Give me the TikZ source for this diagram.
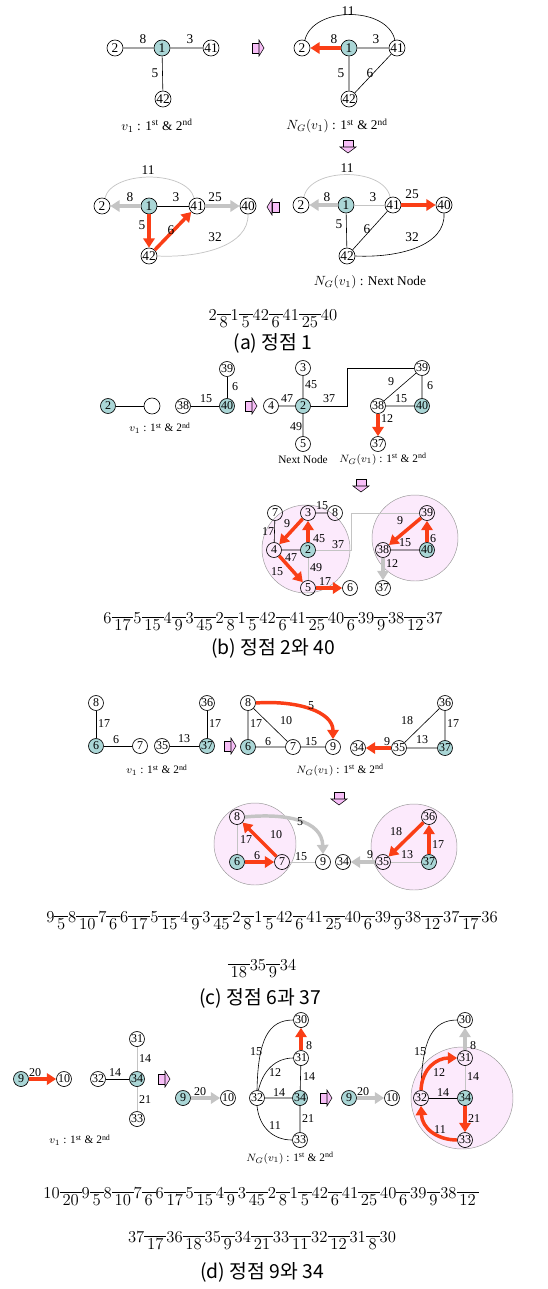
\documentclass[tikz,border=0pt]{standalone}
\usepackage{amsmath}
\usepackage{fontspec}
\newfontfamily\ser{Liberation Serif}
\newfontfamily\kor{Noto Sans CJK KR}
\usetikzlibrary{arrows.meta}
\definecolor{rd}{RGB}{250,62,22}
\definecolor{gy}{RGB}{196,196,196}
\definecolor{tl}{RGB}{170,214,214}
\definecolor{pk}{RGB}{252,234,252}
\definecolor{pa}{RGB}{247,190,247}
\newcommand\wt[1]{\hbox{\setbox0=\hbox{#1}\dimen0=\dimexpr\wd0+4.2pt\relax\rlap{\rule[0.3em]{\dimen0}{0.45pt}}\hbox to\dimen0{\hss\raisebox{-0.46em}{\box0}\hss}}}
\newcommand\fs[1]{\ser\fontsize{#1}{#1}\selectfont}
\newcommand\fsts{1\textsuperscript{st} \& 2\textsuperscript{nd}}
\tikzset{
 pkR/.pic={\draw[fill=pa,line width=0.4pt] (-5,-5) rectangle (2,5); \draw[fill=pa,line width=0.4pt] (2,-8) -- (7,0) -- (2,8) -- cycle;},
 pkL/.pic={\draw[fill=pa,line width=0.4pt] (5,-5) rectangle (-2,5); \draw[fill=pa,line width=0.4pt] (-2,-8) -- (-7,0) -- (-2,8) -- cycle;},
 pkD/.pic={\draw[fill=pa,line width=0.4pt] (-5,-6) rectangle (5,1); \draw[fill=pa,line width=0.4pt] (-8,1) -- (0,7) -- (8,1) -- cycle;},
 nd/.style={circle,draw,line width=0.5pt,inner sep=0pt,minimum size=11.25pt,font=\fs{9}},
 na/.style={nd,minimum size=12pt,font=\fs{10}},
 fl/.style={fill=tl},
 lb/.style={inner sep=0pt,font=\fs{9}},
 la/.style={inner sep=0pt,font=\fs{10}},
 ed/.style={draw=black,line width=0.45pt},
 eg/.style={draw=gy,line width=0.55pt},
 ra/.style={draw=rd,line width=2.6pt,-{Triangle[length=7pt,width=8.5pt]}},
 ga/.style={ra,draw=gy},
 ca/.style={inner sep=0pt,font=\fs{10}},
 cb/.style={inner sep=0pt,font=\fs{8.5}},
 kc/.style={inner sep=0pt,font=\kor\fontsize{14.5}{14.5}\selectfont},
 sq/.style={inner sep=0pt,anchor=base,font=\fontsize{12.5}{15}\selectfont},
 pc/.style={fill=pk,draw=gray!80,line width=0.35pt},
}
\begin{document}
\begin{tikzpicture}[x=0.75pt,y=-0.75pt]
\useasboundingbox (0,0) rectangle (547,1289);
% ---------- (a) top left
\begin{scope}[name prefix=aA-]
\node[na] (n2) at (115,48) {2};
\node[na,fl] (n1) at (162,48) {1};
\node[na] (n41) at (211,48) {41};
\node[na] (n42) at (163,99) {42};
\draw[ed] (n2)--(n1) (n1)--(n41) (n1)--(n42);
\node[la] (w8) at (143,39) {8};
\node[la] (w3) at (190,39) {3};
\node[la] (w5) at (155,73) {5};
\node[ca] (cap) at (157,126) {$v_1$ : \fsts};
\end{scope}
% ---------- (a) top right
\begin{scope}[name prefix=aB-]
\node[na] (n2) at (302,48) {2};
\node[na,fl] (n1) at (349,48) {1};
\node[na] (n41) at (397,48) {41};
\node[na] (n42) at (349,99) {42};
\draw[ed] (n2.70) .. controls (313,6) and (387,6) .. (n41.105);
\draw[ed] (n1)--(n41) (n1)--(n42) (n41)--(n42);
\draw[ra] (n1)--(n2);
\node[la] (w11) at (348,11) {11};
\node[la] (w8) at (334,39) {8};
\node[la] (w3) at (376,39) {3};
\node[la] (w5) at (341,73) {5};
\node[la] (w6) at (370,73) {6};
\node[ca] (cap) at (337,126) {$N_G(v_1)$ : \fsts};
\end{scope}
% ---------- (a) bottom left
\begin{scope}[name prefix=aC-]
\node[na] (n2) at (102,206) {2};
\node[na,fl] (n1) at (149,206) {1};
\node[na] (n41) at (197,206) {41};
\node[na] (n40) at (248,206) {40};
\node[na] (n42) at (149,256) {42};
\draw[eg] (n2.70) .. controls (112,170) and (187,170) .. (n41.110);
\draw[eg] (n42.east) .. controls (200,258) and (249,246) .. (n40.south);
\draw[ed] (n1)--(n41);
\draw[ga] (n1)--(n2);
\draw[ga] (n41)--(n40);
\draw[ra] (n1)--(n42);
\draw[ra] (n42)--(n41);
\node[la] (w11) at (148,170) {11};
\node[la] (w8) at (130,197) {8};
\node[la] (w3) at (176,197) {3};
\node[la] (w25) at (215,197) {25};
\node[la] (w5) at (142,225) {5};
\node[la] (w6) at (171,230) {6};
\node[la] (w32) at (215,237) {32};
\end{scope}
% ---------- (a) bottom right
\begin{scope}[name prefix=aD-]
\node[na] (n2) at (301,205) {2};
\node[na,fl] (n1) at (346,205) {1};
\node[na] (n41) at (393,205) {41};
\node[na] (n40) at (444,205) {40};
\node[na] (n42) at (347,256) {42};
\draw[eg] (n2.70) .. controls (310,167) and (384,167) .. (n41.110);
\draw[ed] (n42.east) .. controls (398,258) and (446,246) .. (n40.south);
\draw[eg] (n1)--(n41);
\draw[ed] (n1)--(n42) (n42)--(n41);
\draw[ga] (n1)--(n2);
\draw[ra] (n41)--(n40);
\node[la] (w11) at (347,168) {11};
\node[la] (w8) at (327,197) {8};
\node[la] (w3) at (373,197) {3};
\node[la] (w25) at (412,194) {25};
\node[la] (w5) at (339,224) {5};
\node[la] (w6) at (367,229) {6};
\node[la] (w32) at (412,237) {32};
\node[ca] (cap) at (370,282) {$N_G(v_1)$ : Next Node};
\end{scope}
\pic at (257,48) {pkR};
\pic at (348,146) {pkD};
\pic at (274,207) {pkL};
\node[sq] (sa) at (273,320) {2\wt{8}1\wt{5}42\wt{6}41\wt{25}40};
\node[kc] (ka) at (273,343) {(a) 정점 1};
% ---------- (b) top left
\begin{scope}[name prefix=bA-]
\node[nd,fl] (n2) at (108,406) {2};
\node[nd,minimum size=12pt] (e) at (152,406) {};
\node[nd] (n38) at (183,406) {38};
\node[nd,fl] (n40) at (227,406) {40};
\node[nd] (n39) at (227,369) {39};
\draw[ed] (n2)--(e) (n38)--(n40) (n40)--(n39);
\node[lb] (w15) at (206,399) {15};
\node[lb] (w6) at (235,387) {6};
\node[cb] (cap) at (160,428) {$v_1$ : \fsts};
\end{scope}
\pic at (250,406) {pkR};
% ---------- (b) top right
\begin{scope}[name prefix=bB-]
\node[nd] (n4) at (271,406) {4};
\node[nd,fl] (n2) at (303,406) {2};
\node[nd] (n3) at (303,368) {3};
\node[nd] (n5) at (303,444) {5};
\node[nd] (n38) at (378,406) {38};
\node[nd,fl] (n40) at (422,406) {40};
\node[nd] (n39) at (422,368) {39};
\node[nd] (n37) at (378,444) {37};
\coordinate (k1) at (347,406);
\coordinate (k2) at (347,368);
\draw[ed] (n3)--(n2) (n4)--(n2) (n2)--(n5) (n39)--(n38) (n39)--(n40) (n38)--(n40);
\draw[ed] (n2)--(k1)--(k2)--(n39);
\draw[ra] (n38)--(n37);
\node[lb] (w45) at (311,385) {45};
\node[lb] (w47) at (287,399) {47};
\node[lb] (w37) at (329,399) {37};
\node[lb] (w49) at (296,427) {49};
\node[lb] (w9) at (391,382) {9};
\node[lb] (w6) at (430,386) {6};
\node[lb] (w15) at (401,399) {15};
\node[lb] (w12) at (387,419) {12};
\node[cb] (cap1) at (303,460) {Next Node};
\node[cb] (cap2) at (383,459) {$N_G(v_1)$ : \fsts};
\end{scope}
\pic at (361,485) {pkD};
% ---------- (b) bottom
\begin{scope}[name prefix=bC-]
\filldraw[pc] (306,549) circle[radius=33pt];
\filldraw[pc] (415,538) circle[radius=32.25pt];
\node[nd] (n7) at (275,513) {7};
\node[nd] (n3) at (308,513) {3};
\node[nd] (n8) at (335,513) {8};
\node[nd] (n4) at (274,550) {4};
\node[nd,fl] (n2) at (308,550) {2};
\node[nd] (n5) at (308,588) {5};
\node[nd] (n6) at (350,588) {6};
\node[nd] (n39) at (427,513) {39};
\node[nd] (n38) at (383,550) {38};
\node[nd,fl] (n40) at (427,550) {40};
\node[nd] (n37) at (383,588) {37};
\coordinate (k1) at (351,550);
\coordinate (k2) at (351,513);
\draw[ed] (n7)--(n4) (n3)--(n8) (n4)--(n2) (n38)--(n40);
\draw[eg] (n2)--(n5);
\draw[eg] (n2)--(k1)--(k2)--(n39);
\draw[ra] (n2)--(n3);
\draw[ra] (n3)--(n4);
\draw[ra] (n4)--(n5);
\draw[ra] (n5)--(n6);
\draw[ra] (n40)--(n39);
\draw[ra] (n39)--(n38);
\draw[ga] (n38)--(n37);
\node[lb] (w15a) at (322,506) {15};
\node[lb] (w17a) at (268,532) {17};
\node[lb] (w9a) at (287,524) {9};
\node[lb] (w45) at (319,539) {45};
\node[lb] (w37) at (338,545) {37};
\node[lb] (w47) at (291,558) {47};
\node[lb] (w49) at (316,568) {49};
\node[lb] (w15b) at (277,572) {15};
\node[lb] (w17b) at (325,582) {17};
\node[lb] (w9b) at (400,521) {9};
\node[lb] (w6) at (433,539) {6};
\node[lb] (w15c) at (405,543) {15};
\node[lb] (w12) at (392,564) {12};
\end{scope}
\node[sq] (sb) at (273,623) {6\wt{17}5\wt{15}4\wt{9}3\wt{45}2\wt{8}1\wt{5}42\wt{6}41\wt{25}40\wt{6}39\wt{9}38\wt{12}37};
\node[kc] (kb) at (273,648) {(b) 정점 2와 40};
% ---------- (c) top left
\begin{scope}[name prefix=cA-]
\node[nd] (n8) at (96,703) {8};
\node[nd,fl] (n6) at (96,746) {6};
\node[nd] (n7) at (140,746) {7};
\node[nd] (n35) at (162,746) {35};
\node[nd,fl] (n37) at (207,746) {37};
\node[nd] (n36) at (207,703) {36};
\draw[ed] (n8)--(n6) (n6)--(n7) (n35)--(n37) (n37)--(n36);
\node[lb] (w17a) at (104,724) {17};
\node[lb] (w6) at (116,740) {6};
\node[lb] (w13) at (184,739) {13};
\node[lb] (w17b) at (215,724) {17};
\node[cb] (cap) at (157,770) {$v_1$ : \fsts};
\end{scope}
\pic at (229,746) {pkR};
% ---------- (c) top right
\begin{scope}[name prefix=cB-]
\node[nd] (n8) at (248,703) {8};
\node[nd,fl] (n6) at (248,747) {6};
\node[nd] (n7) at (293,747) {7};
\node[nd] (n9) at (333,747) {9};
\node[nd] (n34) at (358,748) {34};
\node[nd] (n35) at (399,748) {35};
\node[nd,fl] (n37) at (445,748) {37};
\node[nd] (n36) at (445,703) {36};
\draw[ed] (n8)--(n6) (n8)--(n7) (n6)--(n7) (n7)--(n9) (n36)--(n35) (n35)--(n37) (n37)--(n36);
\draw[ra] (n8.east) .. controls (298,700) and (333,712) .. (n9.north);
\draw[ra] (n35)--(n34);
\node[lb] (w5) at (311,706) {5};
\node[lb] (w17a) at (256,724) {17};
\node[lb] (w10) at (286,721) {10};
\node[lb] (w6) at (268,742) {6};
\node[lb] (w15) at (311,742) {15};
\node[lb] (w18) at (407,721) {18};
\node[lb] (w13) at (422,740) {13};
\node[lb] (w17b) at (453,724) {17};
\node[lb] (w9) at (387,742) {9};
\node[cb] (cap) at (340,770) {$N_G(v_1)$ : \fsts};
\end{scope}
\pic at (339,798) {pkD};
% ---------- (c) bottom
\begin{scope}[name prefix=cC-]
\filldraw[pc] (255,844) circle[radius=30.75pt];
\filldraw[pc] (414,847) circle[radius=32.25pt];
\node[nd] (n8) at (237,817) {8};
\node[nd,fl] (n6) at (237,862) {6};
\node[nd] (n7) at (282,862) {7};
\node[nd] (n9) at (323,862) {9};
\node[nd] (n34) at (343,862) {34};
\node[nd] (n35) at (383,862) {35};
\node[nd,fl] (n37) at (429,862) {37};
\node[nd] (n36) at (429,817) {36};
\draw[eg] (n8)--(n6) (n7)--(n9) (n35)--(n37);
\draw[ra] (n6)--(n7);
\draw[ra] (n7)--(n8);
\draw[ra] (n37)--(n36);
\draw[ra] (n36)--(n35);
\draw[ga] (n8.east) .. controls (285,813) and (322,820) .. (n9.north);
\draw[ga] (n35)--(n34);
\node[lb] (w5) at (300,822) {5};
\node[lb] (w17a) at (246,840) {17};
\node[lb] (w10) at (276,835) {10};
\node[lb] (w6) at (257,856) {6};
\node[lb] (w15) at (301,857) {15};
\node[lb] (w18) at (396,832) {18};
\node[lb] (w13) at (407,855) {13};
\node[lb] (w17b) at (438,845) {17};
\node[lb] (w9) at (370,855) {9};
\end{scope}
\node[sq] (sc1) at (272,922) {9\wt{5}8\wt{10}7\wt{6}6\wt{17}5\wt{15}4\wt{9}3\wt{45}2\wt{8}1\wt{5}42\wt{6}41\wt{25}40\wt{6}39\wt{9}38\wt{12}37\wt{17}36};
\node[sq] (sc2) at (262,970) {\wt{18}35\wt{9}34};
\node[kc] (kcc) at (260,998) {(c) 정점 6과 37};
% ---------- (d) left
\begin{scope}[name prefix=dA-]
\node[nd,fl] (n9) at (21,1079) {9};
\node[nd] (n10) at (64,1079) {10};
\node[nd] (n32) at (98,1079) {32};
\node[nd,fl] (n34) at (137,1079) {34};
\node[nd] (n31) at (137,1039) {31};
\node[nd] (n33) at (137,1119) {33};
\draw[ra] (n9)--(n10);
\draw[ed] (n32)--(n34);
\draw[eg] (n31)--(n34) (n34)--(n33);
\node[lb] (w20) at (35,1073) {20};
\node[lb] (w14a) at (115,1073) {14};
\node[lb] (w14b) at (145,1059) {14};
\node[lb] (w21) at (145,1100) {21};
\node[cb] (cap) at (80,1140) {$v_1$ : \fsts};
\end{scope}
\pic at (163,1079) {pkR};
% ---------- (d) middle
\begin{scope}[name prefix=dB-]
\node[nd,fl] (n9) at (183,1098) {9};
\node[nd] (n10) at (228,1098) {10};
\node[nd] (n32) at (257,1098) {32};
\node[nd,fl] (n34) at (300,1098) {34};
\node[nd] (n31) at (301,1058) {31};
\node[nd] (n30) at (301,1020) {30};
\node[nd] (n33) at (300,1140) {33};
\draw[ga] (n9)--(n10);
\draw[ed] (n32)--(n34) (n34)--(n31) (n34)--(n33);
\draw[ed] (n32.north) .. controls (258,1040) and (268,1020) .. (n30.west);
\draw[ed] (n32.80) .. controls (263,1070) and (276,1058) .. (n31.west);
\draw[ed] (n32.south) .. controls (259,1126) and (272,1140) .. (n33.west);
\draw[ra] (n31)--(n30);
\node[lb] (w20) at (200,1092) {20};
\node[lb] (w14a) at (279,1093) {14};
\node[lb] (w14b) at (309,1077) {14};
\node[lb] (w8) at (309,1046) {8};
\node[lb] (w15) at (256,1052) {15};
\node[lb] (w12) at (275,1073) {12};
\node[lb] (w21) at (308,1119) {21};
\node[lb] (w11) at (275,1126) {11};
\node[cb] (cap) at (290,1158) {$N_G(v_1)$ : \fsts};
\end{scope}
\pic at (325,1098) {pkR};
% ---------- (d) right
\begin{scope}[name prefix=dC-]
\filldraw[pc] (462,1098) circle[radius=38.25pt];
\node[nd,fl] (n9) at (349,1098) {9};
\node[nd] (n10) at (392,1098) {10};
\node[nd] (n32) at (421,1098) {32};
\node[nd,fl] (n34) at (465,1098) {34};
\node[nd] (n31) at (465,1058) {31};
\node[nd] (n30) at (465,1020) {30};
\node[nd] (n33) at (465,1140) {33};
\draw[ga] (n9)--(n10);
\draw[ed] (n32)--(n34);
\draw[eg] (n34)--(n31);
\draw[ga] (n31)--(n30);
\draw[ed] (n32.north) .. controls (422,1040) and (432,1020) .. (n30.west);
\draw[ra] (n32.north) .. controls (422,1068) and (437,1058) .. (n31.west);
\draw[ra] (n34)--(n33);
\draw[ra] (n33.west) .. controls (437,1140) and (422,1128) .. (n32.south);
\node[lb] (w20) at (363,1092) {20};
\node[lb] (w14a) at (443,1093) {14};
\node[lb] (w14b) at (473,1077) {14};
\node[lb] (w8) at (473,1046) {8};
\node[lb] (w15) at (420,1052) {15};
\node[lb] (w12) at (439,1073) {12};
\node[lb] (w21) at (474,1119) {21};
\node[lb] (w11) at (440,1130) {11};
\end{scope}
\node[sq] (sd1) at (261,1198) {10\wt{20}9\wt{5}8\wt{10}7\wt{6}6\wt{17}5\wt{15}4\wt{9}3\wt{45}2\wt{8}1\wt{5}42\wt{6}41\wt{25}40\wt{6}39\wt{9}38\wt{12}};
\node[sq] (sd2) at (262,1242) {37\wt{17}36\wt{18}35\wt{9}34\wt{21}33\wt{11}32\wt{12}31\wt{8}30};
\node[kc] (kd) at (262,1272) {(d) 정점 9와 34};
\end{tikzpicture}
\end{document}
